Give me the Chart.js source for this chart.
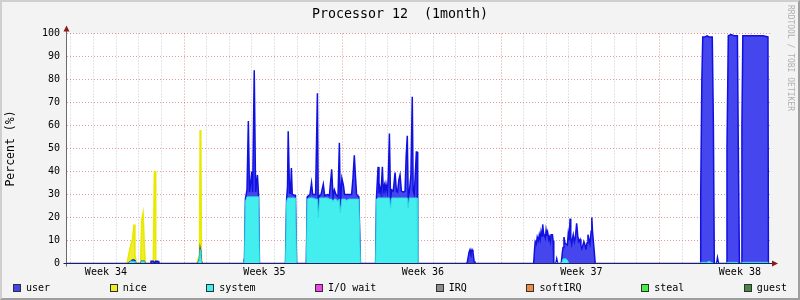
<!DOCTYPE html>
<html>
<head>
<meta charset="utf-8">
<script src="https://cdn.jsdelivr.net/npm/chart.js@4/dist/chart.umd.min.js"></script>
<style>
html, body { margin: 0; padding: 0; background: #f3f3f3; }
#wrap { position: relative; width: 800px; height: 300px; overflow: hidden; }
#c { position: absolute; left: 0; top: 0; }
#frame { position: absolute; left: 0; top: 0; width: 800px; height: 300px; box-sizing: border-box;
  border-style: solid; border-width: 2px; border-color: #cfcfcf #9e9e9e #9e9e9e #cfcfcf; pointer-events: none; }
#mark { position: absolute; left: 786px; top: 5px; writing-mode: vertical-rl; font: 8px 'DejaVu Sans Mono', monospace;
  color: #b0b0b0; white-space: nowrap; }
#legend { position: absolute; left: 0; top: 282px; width: 800px; box-sizing: border-box; padding: 0 13px 0 13px;
  display: flex; justify-content: space-between; font: 10px/11px 'DejaVu Sans Mono', monospace; color: #000; }
.item { display: flex; align-items: center; white-space: nowrap; }
.box { width: 6px; height: 6px; border: 1px solid #303030; margin-right: 5px; }
</style>
</head>
<body>
<div id="wrap">
  <canvas id="c" width="800" height="300"></canvas>
  <div id="legend"></div>
  <div id="mark">RRDTOOL / TOBI OETIKER</div>
  <div id="frame"></div>
</div>
<script>
// time in days from left edge of graph
const t = [
  0, 2.65, 2.69, 2.76, 2.83, 2.89, 2.96, 3.00, 3.07, 3.25, 3.30, 3.36, 3.41, 3.46, 3.67, 3.71, 3.81, 3.86, 3.89, 3.92, 4.02, 4.06,
  5.74, 5.80, 5.85, 5.88, 5.91, 5.94, 5.98,
  7.80, 7.84, 7.88, 7.95, 8.01, 8.06, 8.10, 8.16, 8.20, 8.27, 8.33, 8.41, 8.46, 8.50,
  9.65, 9.70, 9.74, 9.77, 9.83, 9.87, 9.91, 9.95, 10.09, 10.14,
  10.57, 10.61, 10.73, 10.80, 10.85, 10.98, 11.06, 11.10, 11.15, 11.22, 11.32, 11.38, 11.51, 11.59, 11.69, 11.75, 11.81,
  11.88, 11.97, 12.03, 12.07, 12.14, 12.21, 12.26, 12.35, 12.46, 12.57, 12.63, 12.69, 12.74, 12.79, 12.89, 12.96,
  13.63, 13.67, 13.74, 13.78, 13.82, 13.87, 13.93, 13.97, 14.02, 14.05, 14.09, 14.15, 14.19, 14.24, 14.29, 14.34, 14.41, 14.49,
  14.55, 14.60, 14.66, 14.71, 14.77, 14.86, 14.93, 14.98, 15.03, 15.07, 15.12, 15.19, 15.25, 15.29, 15.34, 15.43, 15.46, 15.49,
  17.65, 17.69, 17.76, 17.80, 17.84, 17.89, 17.93, 17.98, 18.02,
  20.61, 20.65, 20.68, 20.73, 20.77, 20.82, 20.86, 20.90, 20.94, 20.98, 21.01, 21.05, 21.08, 21.13, 21.16, 21.20, 21.23, 21.28,
  21.31, 21.35, 21.38, 21.44, 21.47, 21.50, 21.59, 21.63, 21.67,
  21.83, 21.88, 21.91, 21.95, 21.99, 22.04, 22.10, 22.14, 22.18, 22.22, 22.25, 22.29, 22.33, 22.36, 22.41, 22.45, 22.51, 22.56,
  22.60, 22.66, 22.70, 22.74, 22.79, 22.83, 22.88, 22.92, 22.97, 23.01, 23.06, 23.10, 23.15, 23.18, 23.21, 23.25, 23.29, 23.33,
  27.96, 27.99, 28.04, 28.08, 28.18, 28.27, 28.36, 28.45, 28.50, 28.55, 28.59, 28.69, 28.73, 28.78, 29.11, 29.15, 29.21, 29.33,
  29.46, 29.61, 29.65, 29.70, 29.77, 29.81, 29.85, 30.08, 30.30, 30.52, 30.74, 30.96, 30.98
];
const user = [
  0, 0, 0, 0, 0, 0.5, 0.5, 0, 0, 0, 0, 0, 0, 0, 0, 1, 1, 0.5, 0.5, 1, 1, 0,
  0, 0, 0, 0, 0, 0, 0,
  0, 0.5, 1, 3, 33, 2, 5, 11, 2, 55, 2, 9.5, 1, 0,
  0, 1, 5, 29, 2, 2, 13, 1.5, 1, 0,
  0, 1, 1.5, 6.5, 1.5, 2, 46, 1, 1, 1.5, 6, 1, 1.5, 1.5, 13, 2, 4,
  2, 2, 24.5, 3, 9, 6, 2, 2.5, 2, 2, 9, 19, 10, 2, 1, 0,
  0, 1, 13.5, 2, 4.5, 2, 13.5, 3, 5.5, 3, 6, 2.5, 9, 28, 4, 3.5, 3, 11,
  3, 2.5, 8, 10, 3, 2.5, 3, 18, 27, 5, 2.5, 10, 44, 3, 1.5, 20, 20, 0,
  0, 1, 5, 6, 4.5, 6, 5, 1, 0,
  0, 6, 9.5, 8.5, 11.5, 10, 12.5, 10.5, 14, 12, 17, 13, 12.5, 11, 14.5, 12, 13.5, 10.5,
  11.5, 9.5, 12.5, 12.5, 10, 0, 0, 1.5, 0,
  0, 4, 5, 9.5, 7, 6.5, 6.5, 12.5, 10, 19.5, 11, 8.5, 11, 12.5, 9.5, 11, 17.5, 12,
  9.5, 10.5, 8, 6.5, 8, 9.5, 8, 6, 9, 12.5, 10, 8.5, 14, 20, 14, 9.5, 5, 0,
  0, 29.5, 79.5, 98, 98, 98.5, 97.5, 98, 98, 60, 0, 0, 2, 0, 0, 49.5, 98.5, 99,
  98.5, 98.5, 50, 0, 0, 59.5, 98.5, 98.5, 98.5, 98.5, 98.5, 98, 0
];
const system = [
  0, 0, 0, 0.5, 1, 1, 1, 0.5, 0, 0, 1, 1, 1, 0, 0, 0, 0, 0, 0, 0, 0, 0,
  0, 0.5, 2, 6, 4, 0.5, 0,
  0, 2, 27, 29, 29, 29, 29, 29, 29, 29, 29, 29, 29, 0,
  0, 27, 28.5, 28.5, 28.5, 28.5, 28.5, 28.5, 28.5, 0,
  0, 28, 28.5, 28.5, 28.5, 28, 28, 20, 28.5, 28.5, 28.5, 28.5, 28.5, 28, 28, 27, 28,
  28, 27, 28, 22, 28, 28, 28, 27.5, 28, 28, 28, 28, 28, 28, 28, 0,
  0, 28, 28.5, 28.5, 28.5, 28.5, 28.5, 28.5, 28.5, 28.5, 28.5, 28.5, 28.5, 28.5, 24, 28.5, 28.5, 28.5,
  28.5, 28.5, 28.5, 28.5, 28.5, 28.5, 28.5, 28.5, 28.5, 24, 28.5, 28.5, 28.5, 28.5, 28.5, 28.5, 28.5, 0,
  0, 0, 0, 0, 0, 0, 0, 0, 0,
  0, 0, 0, 0, 0, 0, 0, 0, 0, 0, 0, 0, 0, 0, 0, 0, 0, 0,
  0, 0, 0, 0, 0, 0, 0, 0.5, 0,
  0, 1, 2, 2, 2, 2, 1.5, 0.5, 0, 0, 0, 0, 0, 0, 0, 0, 0, 0,
  0, 0, 0, 0, 0, 0, 0, 0, 0, 0, 0, 0, 0, 0, 0, 0, 0, 0,
  0, 0.5, 0.5, 0.5, 0.5, 0.5, 1, 0.5, 0.5, 0, 0, 0, 0.5, 0, 0, 0.5, 0.5, 0.5,
  0.5, 0.5, 0, 0, 0, 0.5, 0.5, 0.5, 0.5, 0.5, 0.5, 0.5, 0
];
// nice only shows up in week 34 (null = gap)
const niceT = [2.65, 2.69, 2.76, 2.83, 2.89, 2.96, 3.00, 3.07, 3.15, 3.25, 3.30, 3.36, 3.41, 3.46, 3.60, 3.81, 3.86, 3.89, 3.92,
  4.5, 5.74, 5.80, 5.85, 5.88, 5.91, 5.94, 5.98];
const nice = [0, 2, 5, 7.5, 9, 15.5, 3, 0, null, 0, 18, 21, 8, 0, null, 0, 39.5, 39.5, 0,
  null, 0, 1.5, 2, 52, 52, 1, 0];

const weekLabels = ['Week 34', 'Week 35', 'Week 36', 'Week 37', 'Week 38'];
const weekLabelPos = [1.72, 8.72, 15.72, 22.72, 29.72];
const firstDayLine = 0.17;   // midnight lines
const weekStartDay = 5;      // index of first monday line

const legendNames = ['user', 'nice', 'system', 'I/O wait', 'IRQ', 'softIRQ', 'steal', 'guest'];
const legendColors = ['#4444ee', '#eeee22', '#44eeee', '#ee44ee', '#8c8c8c', '#ee8c44', '#44ee44', '#448844'];

const RED = 'rgba(205,70,70,0.55)';
const GREY = 'rgba(150,150,150,0.5)';

// legend
const lg = document.getElementById('legend');
legendNames.forEach((n, i) => {
  const it = document.createElement('div');
  it.className = 'item';
  it.innerHTML = '<span class="box" style="background:' + legendColors[i] + '"></span><span>' + n + '</span>';
  lg.appendChild(it);
});

const xy = (xs, ys) => xs.map((x, i) => ({ x: x, y: ys[i] }));

const rrdAxes = {
  id: 'rrdAxes',
  beforeDraw(chart) {
    const a = chart.chartArea, c = chart.ctx;
    c.save();
    c.fillStyle = '#ffffff';
    c.fillRect(a.left, a.top, a.right - a.left, a.bottom - a.top);
    c.restore();
  },
  afterDatasetsDraw(chart) {
    const a = chart.chartArea, c = chart.ctx;
    const b = Math.floor(a.bottom) + 0.5, l = Math.round(a.left) - 0.5;
    c.save();
    c.lineWidth = 1;
    c.strokeStyle = '#6a6a6a';
    c.beginPath(); c.moveTo(l, b + 3); c.lineTo(l, a.top - 4); c.stroke();
    c.strokeStyle = '#20205a';
    c.beginPath(); c.moveTo(l - 3, b); c.lineTo(a.right + 3, b); c.stroke();
    c.fillStyle = '#8b1a1a';
    c.beginPath(); c.moveTo(l, a.top - 8); c.lineTo(l - 3, a.top - 2); c.lineTo(l + 3, a.top - 2); c.closePath(); c.fill();
    c.beginPath(); c.moveTo(a.right + 8, b); c.lineTo(a.right + 2, b - 3); c.lineTo(a.right + 2, b + 3); c.closePath(); c.fill();
    c.restore();
  }
};

Chart.defaults.font.family = "'DejaVu Sans Mono', monospace";

new Chart(document.getElementById('c'), {
  type: 'line',
  data: {
    datasets: [
      { label: 'system', data: xy(t, system), borderColor: '#2fdede', backgroundColor: '#44eeee', borderWidth: 1, fill: 'origin' },
      { label: 'user', data: xy(t, user), borderColor: '#1010e0', backgroundColor: '#4646ee', borderWidth: 1.5, fill: 'origin' },
      { label: 'nice', data: xy(niceT, nice), borderColor: '#e8e800', backgroundColor: '#eeee2a', borderWidth: 1.5, fill: 'origin', spanGaps: false }
    ]
  },
  options: {
    responsive: false,
    animation: false,
    events: [],
    elements: { point: { radius: 0 }, line: { tension: 0 } },
    layout: { padding: 0 },
    plugins: {
      legend: { display: false },
      tooltip: { enabled: false },
      title: {
        display: true, text: 'Processor 12  (1month)', color: '#000',
        font: { size: 13.3, weight: 'normal' }, padding: { top: 7, bottom: 10.54 }
      }
    },
    scales: {
      x: {
        type: 'linear', min: 0, max: 31.05,
        afterBuildTicks: (s) => {
          const ticks = [];
          for (let k = 0; firstDayLine + k < 31.05; k++) ticks.push({ value: firstDayLine + k, day: k });
          weekLabelPos.forEach(v => ticks.push({ value: v }));
          ticks.sort((p, q) => p.value - q.value);
          s.ticks = ticks;
        },
        afterFit: (s) => { s.height = 36.5; },
        grid: {
          drawTicks: false,
          color: (c) => {
            const tk = c.tick;
            if (!tk || tk.day === undefined) return 'rgba(0,0,0,0)';
            return (tk.day - weekStartDay) % 7 === 0 ? RED : GREY;
          }
        },
        border: { display: false, dash: [1, 2] },
        ticks: {
          autoSkip: false, maxRotation: 0, minRotation: 0, padding: 2.5, color: '#000', font: { size: 10 },
          callback: (v) => { const i = weekLabelPos.indexOf(v); return i >= 0 ? weekLabels[i] : ''; }
        }
      },
      y: {
        stacked: true, min: 0, max: 100,
        afterFit: (s) => { s.width = 67; },
        grid: { drawTicks: false, color: (c) => (c.tick && c.tick.value % 10 === 0) ? RED : GREY },
        border: { display: false, dash: [1, 2] },
        ticks: {
          stepSize: 5, padding: 7, color: '#000', font: { size: 10 },
          callback: (v) => v % 10 === 0 ? String(v) : ''
        },
        title: { display: true, text: 'Percent (%)', color: '#000', font: { size: 11.5 }, padding: { top: 4, bottom: 0 } }
      },
      // empty right margin (watermark lives there)
      yRight: {
        position: 'right', min: 0, max: 1,
        grid: { display: false, drawOnChartArea: false },
        border: { display: false },
        ticks: { display: false },
        afterFit: (s) => { s.width = 30; }
      }
    }
  },
  plugins: [rrdAxes]
});
</script>
</body>
</html>
